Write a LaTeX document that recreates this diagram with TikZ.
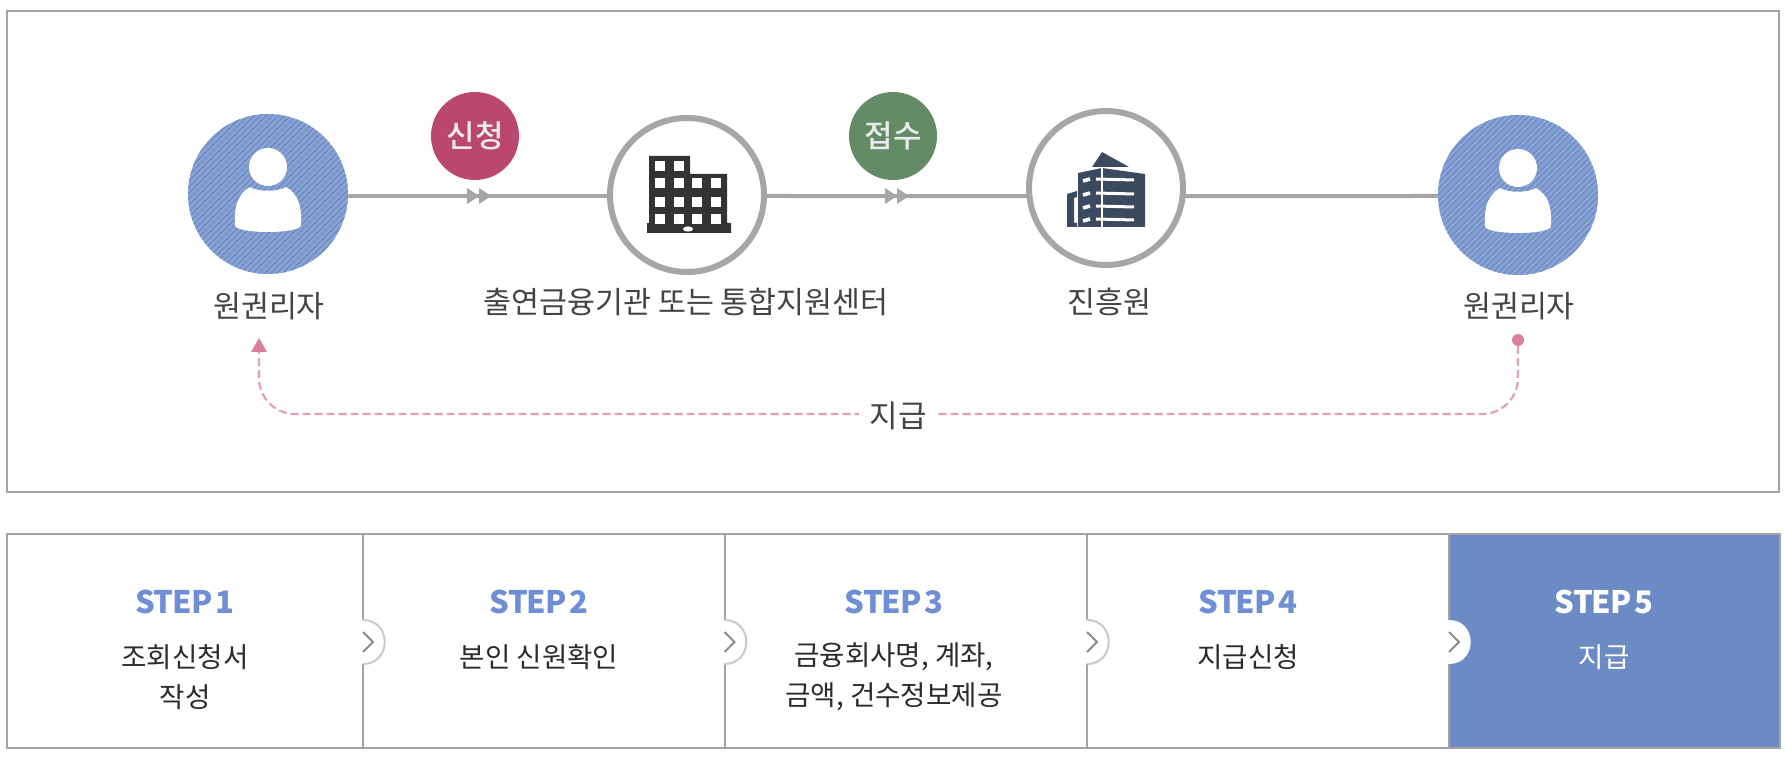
\documentclass[tikz,border=0pt]{standalone}
\usepackage{fontspec}
\setmainfont{Noto Sans CJK KR}
\newfontfamily\stepfont[LetterSpace=-3.5,WordSpace=0.45]{Noto Sans CJK KR}
\newfontfamily\medfont{Noto Sans CJK KR Medium}
\usetikzlibrary{calc}
\definecolor{framegray}{HTML}{A3A3A3}
\definecolor{linegray}{HTML}{A6A6A6}
\definecolor{notchgray}{HTML}{C9C9C9}
\definecolor{chevgray}{HTML}{8A8A8A}
\definecolor{personblue}{HTML}{8AA5D6}
\definecolor{hatchblue}{HTML}{7391C6}
\definecolor{stepblue}{HTML}{6F8ED6}
\definecolor{fillblue}{HTML}{6C8AC4}
\definecolor{applyred}{HTML}{BC476D}
\definecolor{acceptgreen}{HTML}{628B66}
\definecolor{payPink}{HTML}{E3A0B8}
\definecolor{tipPink}{HTML}{D67F9F}
\definecolor{labelgray}{HTML}{444444}
\definecolor{bodydark}{HTML}{2B2B2B}
\definecolor{bldgdark}{HTML}{333333}
\definecolor{bldgnavy}{HTML}{3C4A60}
\tikzset{
  x=0.5pt,y=-0.5pt,
  frameline/.style={draw=framegray,line width=1pt},
  personnode/.style={circle,minimum size=80pt,inner sep=0pt,outer sep=0pt,fill=personblue},
  ringnode/.style={circle,minimum size=77pt,inner sep=0pt,outer sep=0pt,draw=linegray,line width=3pt,fill=white},
  badge/.style={circle,minimum size=44pt,inner sep=0pt,text=white!92!black,font=\medfont\fontsize{15.5}{15.5}\selectfont},
  flowline/.style={draw=linegray,line width=2pt},
  lbl/.style={text=labelgray,inner sep=0pt,font=\fontsize{15.2}{15.2}\selectfont},
  steptitle/.style={text=stepblue,inner sep=0pt,font=\stepfont\fontsize{15.5}{15.5}\selectfont\bfseries},
  stepbody/.style={text=bodydark,inner sep=0pt,align=center,font=\fontsize{13.8}{20}\selectfont},
  paydash/.style={draw=payPink,line width=1.1pt,dash pattern=on 4pt off 2pt},
  chev/.style={draw=chevgray,line width=1pt},
  person/.pic={
    \begin{scope}
      \clip (0,0) circle[radius=40pt];
      \foreach \d in {-170,-164,...,170}
        \draw[hatchblue,line width=1pt] (\d-90,90) -- (\d+90,-90);
    \end{scope}
    \fill[white] (-33,30) .. controls (-34,12) and (-30,0) .. (-18,-7)
       .. controls (-10,-2) and (10,-2) .. (18,-7)
       .. controls (30,0) and (34,12) .. (33,30)
       .. controls (35,36) and (15,38) .. (0,38)
       .. controls (-15,38) and (-35,36) .. (-33,30) -- cycle;
    \fill[white] (0,-27) circle[radius=9.5pt];
  },
  dbltip/.pic={
    \fill[linegray] (-12,-8) -- (0,0) -- (-12,8) -- cycle;
    \fill[linegray] (0,-8) -- (12,0) -- (0,8) -- cycle;
  },
  notch/.pic={
    \path[draw=notchgray,line width=1pt,fill=white] (0,-22) .. controls (29,-22) and (29,22) .. (0,22);
    \draw[chev] (0,-10) -- (10,0) -- (0,10);
  }
}
\begin{document}
\begin{tikzpicture}
\useasboundingbox (0,0) rectangle (1786,758);
\fill[white] (0,0) rectangle (1786,758);
% top frame
\draw[frameline] (7,11) rectangle (1779,492);
% nodes
\node[personnode] (p1) at (268,194) {};
\node[ringnode] (b1) at (687,195) {};
\node[ringnode] (b2) at (1106,188) {};
\node[personnode] (p2) at (1518,195) {};
% connectors
\draw[flowline] (p1.east |- 0,196) -- (b1.west |- 0,196);
\draw[flowline] (b1.east |- 0,196) -- (b2.186);
\draw[flowline] (b2.354) -- (p2.west |- 0,196);
\pic at (479,196) {dbltip};
\pic at (897,196) {dbltip};
% person icons
\pic at (p1) {person};
\pic at (p2) {person};
% badges
\node[badge,fill=applyred] (apply) at (475,136) {신청};
\node[badge,fill=acceptgreen] (accept) at (893,136) {접수};
% building 1
\begin{scope}
\fill[bldgdark] (649,156) -- (690,156) -- (690,174) -- (727,174) -- (727,223) -- (731,223) -- (731,233) -- (647,233) -- (647,223) -- (649,223) -- cycle;
\foreach \cx/\cy in {660/166,679/166,660/183,679/183,697/183,716/183,660/202,679/202,697/202,716/202,660/219,679/219,697/219,716/219}
  \fill[white] (\cx-5,\cy-5) rectangle (\cx+5,\cy+5);
\fill[white] (688,229) ellipse[x radius=2.5pt,y radius=1.3pt];
\end{scope}
% building 2
\begin{scope}
\fill[bldgnavy] (1102,152) -- (1129,167) -- (1092,167) -- cycle;
\fill[bldgnavy] (1078,173) -- (1102,168) -- (1145,174) -- (1145,227) -- (1078,227) -- cycle;
\fill[bldgnavy] (1067,194) -- (1077,191) -- (1077,197) -- (1074,198) -- (1074,223) -- (1077,223) -- (1077,227) -- (1067,227) -- cycle;
\draw[white,line width=1pt] (1102,167) -- (1102,227);
\foreach \yy in {179,193,206,219}{
  \draw[white,line width=1.5pt] (1096,\yy) -- (1134,\yy+1);
  \draw[white,line width=1.8pt] (1083,\yy+2) -- (1090,\yy);
}
\end{scope}
% labels
\node[lbl] (l1) at (269,306) {원권리자};
\node[lbl] (l2) at (686,302) {출연금융기관 또는 통합지원센터};
\node[lbl] (l3) at (1109,302) {진흥원};
\node[lbl] (l4) at (1519,306) {원권리자};
% payment loop
\coordinate (tipL) at (259,352);
\node[circle,fill=tipPink,minimum size=6pt,inner sep=0pt,outer sep=0pt] (dot) at (1518,340) {};
\coordinate (payrow) at (897,414);
\draw[paydash,rounded corners=18pt] (dot) -- (dot |- payrow) -- (tipL |- payrow) -- (tipL);
\fill[tipPink] (259,338) -- (267,352) -- (251,352) -- cycle;
\node[lbl,fill=white,inner xsep=5pt,inner ysep=2pt,font=\fontsize{15.5}{15.5}\selectfont] (pay) at (898,416) {지급};
% steps
\fill[fillblue] (1449,534) rectangle (1780,748);
\draw[frameline] (7,534) rectangle (1780,748);
\foreach \xx in {363,724.5,1087}{
  \draw[draw=framegray,line width=1pt] (\xx,534) -- (\xx,620);
  \draw[draw=framegray,line width=1pt] (\xx,664) -- (\xx,748);
  \pic at (\xx,642) {notch};
}
\draw[draw=framegray,line width=1pt] (1449,534) -- (1449,620);
\draw[draw=framegray,line width=1pt] (1449,664) -- (1449,748);
\fill[white] (1448.5,620) .. controls (1478,620) and (1478,664) .. (1448.5,664) -- cycle;
\draw[chev] (1449,632) -- (1459,642) -- (1449,652);
\node[steptitle] (s1) at (185,602) {STEP 1};
\node[stepbody] (t1) at (185,677) {조회신청서\\작성};
\node[steptitle] (s2) at (539,602) {STEP 2};
\node[stepbody] (t2) at (539,657) {본인 신원확인};
\node[steptitle] (s3) at (894,602) {STEP 3};
\node[stepbody] (t3) at (894,677) {금융회사명, 계좌,\\금액, 건수정보제공};
\node[steptitle] (s4) at (1248,602) {STEP 4};
\node[stepbody] (t4) at (1248,657) {지급신청};
\node[steptitle,text=white] (s5) at (1604,602) {STEP 5};
\node[stepbody,text=white] (t5) at (1604,657) {지급};
\end{tikzpicture}
\end{document}
